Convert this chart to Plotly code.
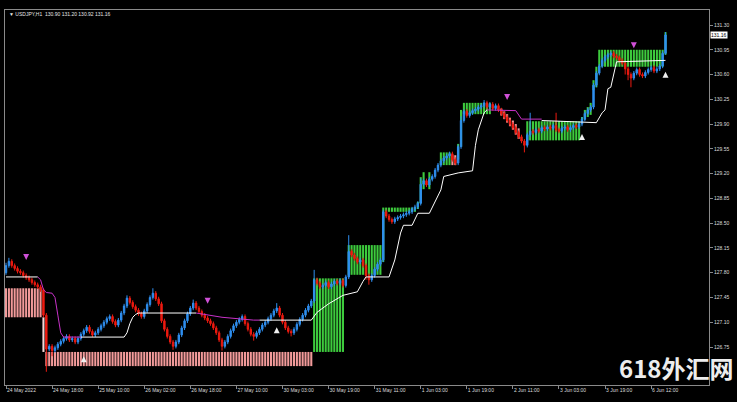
import plotly.graph_objects as go

# ---------------- data (USDJPY H1) ----------------
first_open = 127.80
closes = [
    127.90, 127.96, 127.90, 127.86, 127.82, 127.80, 127.76, 127.73, 127.70, 127.66,
    127.63, 127.60, 127.56, 127.20, 126.72, 126.76, 126.70, 126.74, 126.79, 126.83,
    126.87, 126.90, 126.85, 126.87, 126.82, 126.87, 126.93, 126.98, 127.03, 126.97,
    126.92, 126.95, 127.00, 127.05, 127.10, 127.15, 127.18, 127.11, 127.06, 127.13,
    127.23, 127.33, 127.44, 127.38, 127.32, 127.27, 127.22, 127.18, 127.26, 127.35,
    127.45, 127.51, 127.43, 127.36, 127.12, 127.00, 126.90, 126.82, 126.76, 126.82,
    126.92, 127.02, 127.12, 127.22, 127.30, 127.37, 127.30, 127.25, 127.20, 127.16,
    127.12, 127.08, 127.02, 126.95, 126.85, 126.76, 126.82, 126.90, 126.98, 127.05,
    127.10, 127.14, 127.18, 127.08, 127.00, 126.93, 126.90, 126.95, 127.00, 127.06,
    127.10, 127.15, 127.20, 127.26, 127.30, 127.20, 127.10, 127.02, 126.97, 126.95,
    127.00, 127.07, 127.14, 127.20, 127.27, 127.33, 127.40, 127.70, 127.65, 127.60,
    127.62, 127.66, 127.60, 127.64, 127.68, 127.65, 127.69, 127.62, 127.74, 128.10,
    128.05, 128.00, 127.95, 127.98, 127.90, 127.76, 127.70, 127.76, 127.85, 127.92,
    127.98, 128.66, 128.60, 128.55, 128.52, 128.56, 128.58, 128.60, 128.62, 128.64,
    128.66, 128.70, 128.73, 128.78, 129.05, 129.10, 129.04, 129.12, 129.16, 129.25,
    129.32, 129.38, 129.42, 129.45, 129.48, 129.40, 129.35, 129.58, 129.95, 130.08,
    130.02, 130.06, 130.09, 130.11, 130.14, 130.16, 130.20, 130.14, 130.18, 130.12,
    130.16, 130.10, 130.05, 130.00, 129.95, 129.90, 129.85, 129.78, 129.72, 129.66,
    129.60, 129.75, 129.80, 129.78, 129.82, 129.80, 129.85, 129.83, 129.86, 129.84,
    129.88, 129.82, 129.80, 129.84, 129.86, 129.82, 129.85, 129.88, 129.86, 129.90,
    129.97, 130.05, 130.10, 130.14, 130.45, 130.62, 130.72, 130.80, 130.85, 130.88,
    130.90, 130.86, 130.84, 130.80, 130.76, 130.68, 130.60, 130.55, 130.62, 130.67,
    130.60, 130.58, 130.63, 130.67, 130.70, 130.65, 130.68, 130.72, 130.90, 131.16,
]
# upper / lower shadow length beyond the body, in hundredths of a yen
wick_up = [
    4, 5, 3, 3, 3, 3, 3, 3, 3, 3, 3, 3, 3, 2, 3, 3, 3, 3, 3, 3,
    3, 3, 3, 3, 3, 3, 3, 3, 3, 3, 3, 3, 3, 3, 3, 3, 3, 3, 3, 3,
    3, 3, 4, 3, 3, 3, 3, 3, 3, 3, 3, 7, 3, 3, 3, 3, 3, 3, 3, 3,
    3, 3, 3, 3, 3, 5, 3, 3, 3, 3, 3, 3, 3, 3, 3, 3, 3, 3, 3, 3,
    3, 3, 3, 3, 3, 3, 3, 3, 3, 3, 3, 3, 3, 3, 7, 3, 3, 3, 3, 3,
    3, 3, 3, 3, 3, 3, 3, 14, 3, 3, 3, 3, 3, 3, 3, 3, 3, 3, 3, 23,
    3, 3, 3, 3, 3, 3, 3, 3, 3, 3, 3, 3, 3, 3, 3, 3, 3, 3, 3, 3,
    3, 3, 3, 3, 8, 3, 3, 3, 3, 3, 3, 3, 3, 3, 3, 3, 3, 3, 6, 3,
    3, 3, 3, 3, 3, 3, 4, 3, 3, 3, 3, 3, 3, 3, 3, 3, 3, 3, 3, 3,
    3, 3, 26, 3, 3, 3, 3, 3, 3, 3, 3, 18, 3, 3, 3, 3, 3, 3, 3, 3,
    3, 3, 3, 3, 3, 3, 3, 3, 3, 3, 3, 3, 3, 3, 3, 3, 3, 3, 3, 3,
    3, 3, 3, 3, 3, 3, 3, 3, 3, 4,
]
wick_dn = [
    3, 3, 3, 3, 3, 3, 3, 3, 3, 3, 3, 3, 3, 3, 32, 3, 8, 3, 3, 3,
    3, 3, 3, 3, 3, 3, 3, 3, 3, 3, 3, 3, 3, 3, 3, 3, 3, 3, 3, 3,
    3, 3, 3, 3, 3, 3, 3, 3, 3, 3, 3, 3, 3, 3, 3, 3, 3, 3, 5, 3,
    3, 3, 3, 3, 3, 3, 3, 3, 3, 3, 3, 3, 3, 3, 3, 6, 3, 3, 3, 3,
    3, 3, 3, 3, 3, 3, 6, 3, 3, 3, 3, 3, 3, 3, 3, 3, 3, 3, 3, 5,
    3, 3, 3, 3, 3, 3, 3, 3, 3, 3, 3, 3, 3, 3, 3, 3, 3, 3, 3, 3,
    3, 3, 3, 3, 3, 6, 7, 3, 3, 3, 3, 3, 3, 3, 3, 3, 3, 3, 3, 3,
    3, 3, 3, 3, 3, 3, 3, 3, 3, 3, 3, 3, 3, 3, 3, 3, 3, 3, 3, 3,
    3, 3, 3, 3, 3, 3, 3, 3, 3, 3, 3, 3, 3, 3, 3, 3, 3, 3, 3, 3,
    10, 3, 3, 3, 3, 3, 3, 3, 3, 3, 3, 3, 3, 3, 3, 3, 3, 3, 3, 3,
    3, 3, 3, 3, 3, 3, 3, 3, 3, 3, 3, 3, 3, 3, 3, 8, 8, 13, 3, 3,
    3, 3, 3, 3, 3, 3, 3, 3, 3, 2,
]

# range boxes / histogram: (first bar, last bar, low, high, kind)
box_segments = [
    (0, 12, 127.17, 127.58, "bear"),
    (13, 13, 126.68, 127.17, "edge"),
    (14, 106, 126.48, 126.68, "bear"),
    (107, 117, 126.68, 127.72, "bull"),
    (119, 130, 127.77, 128.19, "bull"),
    (131, 131, 127.95, 128.72, "bull"),
    (132, 142, 128.66, 128.72, "bull"),
    (143, 143, 128.70, 128.80, "bull"),
    (144, 144, 128.78, 129.15, "bull"),
    (145, 145, 128.98, 129.22, "bull"),
    (147, 147, 128.98, 129.22, "bull"),
    (151, 154, 129.32, 129.50, "bull"),
    (155, 156, 129.32, 129.46, "bear"),
    (157, 157, 129.40, 129.62, "bull"),
    (158, 158, 129.58, 130.10, "bull"),
    (159, 168, 130.04, 130.20, "bull"),
    (172, 172, 130.02, 130.12, "bear"),
    (173, 173, 129.97, 130.08, "bear"),
    (174, 174, 129.92, 130.04, "bear"),
    (175, 175, 129.87, 129.99, "bear"),
    (176, 176, 129.82, 129.95, "bear"),
    (177, 177, 129.75, 129.90, "bear"),
    (178, 178, 129.69, 129.84, "bear"),
    (181, 199, 129.67, 129.94, "bull"),
    (200, 200, 129.93, 130.00, "bull"),
    (201, 201, 129.96, 130.10, "bull"),
    (202, 202, 130.00, 130.14, "bull"),
    (203, 203, 130.03, 130.20, "bull"),
    (204, 204, 130.38, 130.52, "bull"),
    (205, 205, 130.42, 130.71, "bull"),
    (206, 228, 130.71, 130.95, "bull"),
    (229, 229, 130.88, 131.20, "bull"),
]

# trailing line vertices (white = up-trend, magenta = down-trend), None separates runs
trail_up_x = [0, 11, None,
              26, 41, 42, 43, 44, 45, 46, 66, None,
              88, 106, 108, 112, 117, 120, 122, 124, 125, 133, 135, 137, 138, 141, 143, 147,
              151, 152, 157, 162, 163, 164, 166, 167, None,
              186, 205, 207, 208, 209, 210, 212, 229]
trail_up_y = [127.74, 127.74, None,
              126.89, 126.89, 126.95, 127.08, 127.17, 127.21, 127.23, 127.23, None,
              127.13, 127.13, 127.24, 127.36, 127.48, 127.51, 127.53, 127.68, 127.74, 127.74,
              127.98, 128.36, 128.47, 128.47, 128.64, 128.64,
              128.97, 129.16, 129.21, 129.24, 129.60, 129.82, 130.06, 130.10, None,
              129.95, 129.92, 130.06, 130.10, 130.40, 130.42, 130.78, 130.80]
trail_dn_x = [11, 12, 13, 14, 16, 17, 18, 19, 20, 26, None,
              66, 75, 86, 88, None,
              167, 177, 179, 186]
trail_dn_y = [127.74, 127.70, 127.56, 127.52, 127.51, 127.45, 127.20, 126.95, 126.89, 126.89, None,
              127.23, 127.17, 127.13, 127.13, None,
              130.10, 130.09, 129.97, 129.97]

# signal arrows
sell_x = [7, 70, 174, 218]
sell_y = [127.98, 127.36, 130.24, 130.97]
buy_x = [27, 94, 200, 229]
buy_y = [126.62, 127.03, 129.76, 130.64]

tick_idx = [0, 16, 32, 48, 64, 80, 96, 112, 128, 144, 160, 176, 192, 208, 224]
tick_text = ["24 May 2022", "24 May 18:00", "25 May 10:00", "26 May 02:00", "26 May 18:00",
             "27 May 10:00", "30 May 03:00", "30 May 19:00", "31 May 11:00", "1 Jun 03:00",
             "1 Jun 19:00", "2 Jun 11:00", "3 Jun 03:00", "3 Jun 19:00", "6 Jun 12:00"]
price_ticks = [131.30, 130.95, 130.60, 130.25, 129.90, 129.55, 129.20, 128.85,
               128.50, 128.15, 127.80, 127.45, 127.10, 126.75]
last_price = 131.16
header = "\u25bc USDJPY,H1  130.90 131.20 130.92 131.16"

# ---------------- build ----------------
BLUE = "#2F8FF0"
RED = "#EE1A10"
KIND_COLOR = {"bull": "#3DCB3D", "bear": "#F29A9A", "edge": "#F6D6D6"}
MAGENTA = "#C832C8"

idx = list(range(len(closes)))
opens = [first_open] + closes[:-1]
highs = [max(o, c) + u / 100 for o, c, u in zip(opens, closes, wick_up)]
lows = [min(o, c) - d / 100 for o, c, d in zip(opens, closes, wick_dn)]

bx, bbase, bh, bcol = [], [], [], []
for s, e, lo, hi, kind in box_segments:
    for i in range(s, e + 1):
        bx.append(i)
        bbase.append(lo)
        bh.append(hi - lo)
        bcol.append(KIND_COLOR[kind])

fig = go.Figure()
fig.add_trace(go.Candlestick(
    x=idx, open=opens, high=highs, low=lows, close=closes,
    increasing=dict(line=dict(color=BLUE, width=1), fillcolor=BLUE),
    decreasing=dict(line=dict(color=RED, width=1), fillcolor=RED),
    whiskerwidth=0, hoverinfo="skip"))
fig.add_trace(go.Bar(x=bx, y=bh, base=bbase, width=0.72,
                     marker=dict(color=bcol, line=dict(width=0)), hoverinfo="skip"))
fig.add_trace(go.Scatter(x=trail_up_x, y=trail_up_y, mode="lines",
                         line=dict(color="#FFFFFF", width=1), connectgaps=False, hoverinfo="skip"))
fig.add_trace(go.Scatter(x=trail_dn_x, y=trail_dn_y, mode="lines",
                         line=dict(color=MAGENTA, width=1), connectgaps=False, hoverinfo="skip"))
fig.add_trace(go.Scatter(x=sell_x, y=sell_y, mode="markers",
                         marker=dict(symbol="arrow-down", size=6, color="#D050D8"), hoverinfo="skip"))
fig.add_trace(go.Scatter(x=buy_x, y=buy_y, mode="markers",
                         marker=dict(symbol="arrow-up", size=6, color="#F0F0F0"), hoverinfo="skip"))

AXC = "#8A8A8A"
fig.update_layout(
    width=737, height=402, autosize=False,
    margin=dict(l=5, r=28, t=10, b=17),
    paper_bgcolor="#000000", plot_bgcolor="#000000",
    showlegend=False, hovermode=False, barmode="overlay",
    font=dict(family="Liberation Sans", size=5, color="#DCDCDC"),
    xaxis=dict(range=[-0.35, 244.1], rangeslider=dict(visible=False),
               tickvals=tick_idx, ticktext=tick_text, ticks="outside", ticklen=3,
               tickcolor=AXC, ticklabelposition="outside right",
               tickfont=dict(size=5, color="#DCDCDC"),
               showgrid=False, zeroline=False, showline=True, mirror=True,
               linecolor=AXC, linewidth=1),
    yaxis=dict(range=[126.213, 131.512], side="right",
               tickvals=price_ticks, ticktext=[f"{v:.2f}" for v in price_ticks],
               ticks="outside", ticklen=3, tickcolor=AXC,
               tickfont=dict(size=5, color="#DCDCDC"),
               showgrid=False, zeroline=False, showline=True, mirror=True,
               linecolor=AXC, linewidth=1),
)

fig.add_annotation(text=header, xref="paper", yref="paper", x=0.003, y=0.989,
                   xanchor="left", yanchor="middle", showarrow=False,
                   font=dict(size=5, color="#E6E6E6"))
fig.add_annotation(text=f"{last_price:.2f}", xref="paper", yref="y", x=1.002, y=last_price,
                   xanchor="left", yanchor="middle", showarrow=False,
                   bgcolor="#FFFFFF", borderpad=0, font=dict(size=5, color="#000000"))
fig.add_annotation(text="<b>618外汇网</b>", xref="paper", yref="paper", x=1.035, y=-0.0027,
                   xanchor="right", yanchor="bottom", showarrow=False, borderpad=0,
                   font=dict(family="Noto Sans CJK SC", size=24, color="#EDEDED"))

fig.write_html("out.html", config={"displayModeBar": False},
               post_script="document.body.style.margin='0';document.body.style.overflow='hidden';")
